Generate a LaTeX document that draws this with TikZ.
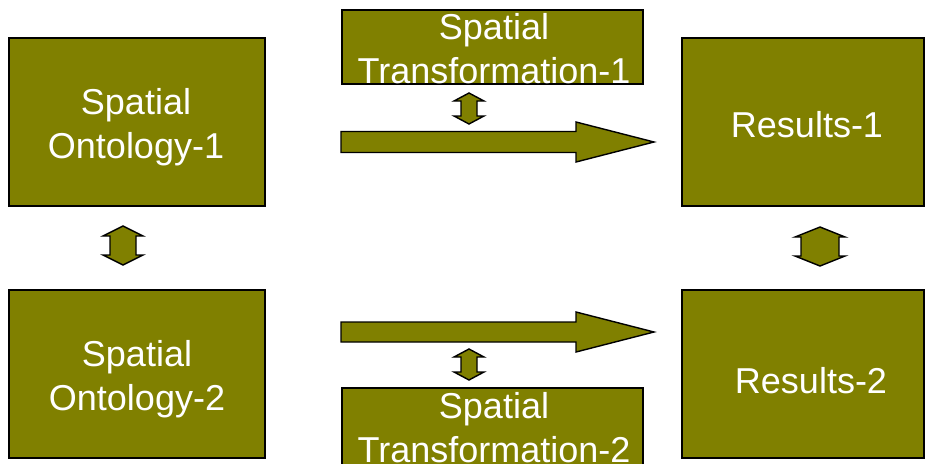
\documentclass[tikz,border=0pt]{standalone}
\usepackage{fontspec}
\setmainfont{Liberation Sans}
\definecolor{olivebox}{HTML}{808000}
\tikzset{
  box/.style={draw=black, line width=1.6pt, fill=olivebox, inner sep=0pt, anchor=north west},
  boxtext/.style={text=white, inner sep=0pt, align=center,
    font=\fontsize{36}{44}\selectfont},
  blockarrow/.style={draw=black, line width=1.4pt, fill=olivebox, line join=miter},
}
% vertical double-headed block arrow:
% #1 centre x, #2 top y, #3 bottom y, #4 head half-width, #5 shaft half-width, #6 head height
\newcommand\udblockarrow[6]{%
  \draw[blockarrow] (#1,#2) -- ({#1+#4},{#2+#6}) -- ({#1+#5},{#2+#6}) --
    ({#1+#5},{#3-#6}) -- ({#1+#4},{#3-#6}) -- (#1,#3) -- ({#1-#4},{#3-#6}) --
    ({#1-#5},{#3-#6}) -- ({#1-#5},{#2+#6}) -- ({#1-#4},{#2+#6}) -- cycle;}
% horizontal single-headed block arrow:
% #1 left x, #2 centre y, #3 head start x, #4 tip x, #5 shaft half-height, #6 head half-height
\newcommand\rblockarrow[6]{%
  \draw[blockarrow] (#1,{#2-#5}) -- (#3,{#2-#5}) -- (#3,{#2-#6}) -- (#4,#2) --
    (#3,{#2+#6}) -- (#3,{#2+#5}) -- (#1,{#2+#5}) -- cycle;}
\begin{document}
\begin{tikzpicture}[x=1pt, y=-1pt]
  \useasboundingbox (0,0) rectangle (926,463);
  \clip (0,0) rectangle (926,463);

  % boxes
  \node[box, minimum width=256pt, minimum height=168pt] (onto1) at (8,37) {};
  \node[box, minimum width=256pt, minimum height=168pt] (onto2) at (8,289) {};
  \node[box, minimum width=301pt, minimum height=74pt] (trans1) at (341,9) {};
  \node[box, minimum width=301pt, minimum height=90pt] (trans2) at (341,387) {};
  \node[box, minimum width=242pt, minimum height=168pt] (res1) at (681,37) {};
  \node[box, minimum width=242pt, minimum height=168pt] (res2) at (681,289) {};

  % labels
  \node[boxtext, anchor=north] (onto1txt) at (136,88) {Spatial\\Ontology-1};
  \node[boxtext, anchor=north] (onto2txt) at (137,340) {Spatial\\Ontology-2};
  \node[boxtext, anchor=north] (trans1txt) at (494,13) {Spatial\\Transformation-1};
  \node[boxtext, anchor=north] (trans2txt) at (494,392) {Spatial\\Transformation-2};
  \node[boxtext, anchor=base] (res1txt) at (807,137) {Results-1};
  \node[boxtext, anchor=base] (res2txt) at (811,393) {Results-2};

  % horizontal block arrows
  \rblockarrow{341}{142}{576}{654}{10.5}{20}
  \rblockarrow{341}{332}{576}{654}{10}{20}

  % vertical double-headed block arrows
  \udblockarrow{123}{226}{265}{20}{13}{10}
  \udblockarrow{820}{227}{266}{25}{19}{10}
  \udblockarrow{469}{93}{124}{15}{8}{8}
  \udblockarrow{469}{349}{380}{15}{8}{8}
\end{tikzpicture}
\end{document}
